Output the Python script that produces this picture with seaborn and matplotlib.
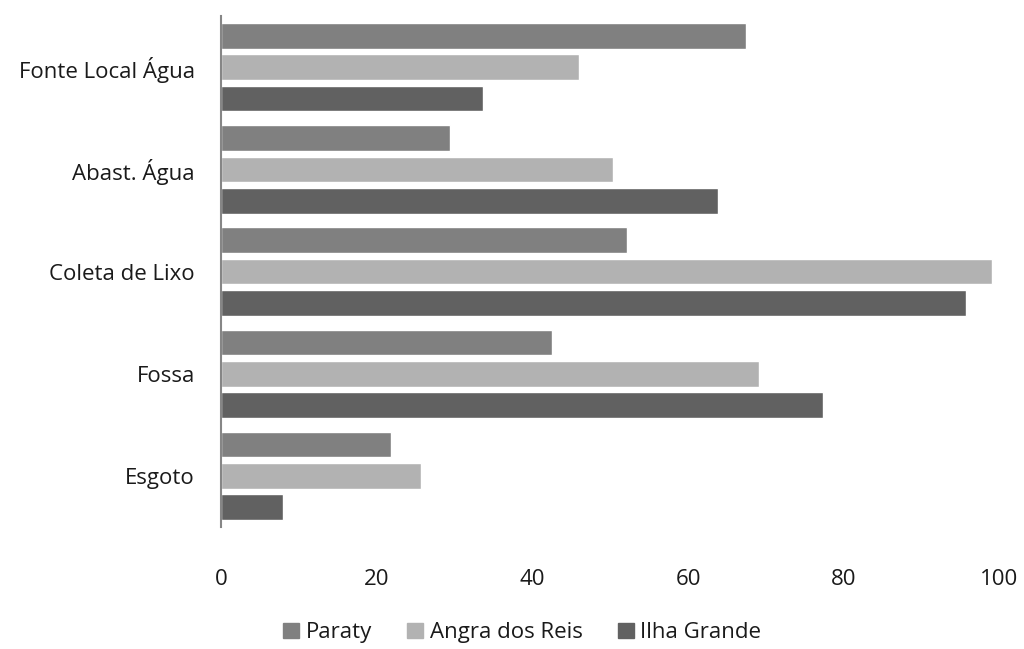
import matplotlib
matplotlib.use("Agg")
import matplotlib.pyplot as plt
import seaborn as sns
import pandas as pd

categorias = ["Fonte Local Água", "Abast. Água", "Coleta de Lixo", "Fossa", "Esgoto"]
paraty = [67.5, 29.4, 52.2, 42.5, 21.8]
angra = [46.0, 50.3, 99.1, 69.1, 25.7]
ilha = [33.6, 63.9, 95.7, 77.3, 7.9]
series = ["Paraty", "Angra dos Reis", "Ilha Grande"]
cores = ["#808080", "#b2b2b2", "#616161"]

df = pd.DataFrame({
    "categoria": categorias * 3,
    "valor": paraty + angra + ilha,
    "serie": [s for s in series for _ in categorias],
})

sns.set_style("white")
plt.rcParams["font.family"] = ["Open Sans", "DejaVu Sans"]

fig = plt.figure(figsize=(10.24, 6.49), dpi=100)
ax = fig.add_axes([0.216, 0.188, 0.76, 0.787])
sns.barplot(data=df, y="categoria", x="valor", hue="serie", order=categorias,
            hue_order=series, palette=cores, orient="h", width=0.92, gap=0.18,
            saturation=1, ax=ax)

ax.set_xlim(0, 100)
ax.set_ylim(4.5, -0.5)
ax.set_xticks([0, 20, 40, 60, 80, 100])
ax.set_xlabel("")
ax.set_ylabel("")
ax.tick_params(axis="x", labelsize=16, length=0, pad=30, labelcolor="#1a1a1a")
ax.tick_params(axis="y", labelsize=16, length=0, pad=19, labelcolor="#1a1a1a")
for s in ["top", "right", "bottom"]:
    ax.spines[s].set_visible(False)
ax.spines["left"].set_color("#868686")
ax.spines["left"].set_linewidth(1.5)

ax.legend_.remove()
handles = [plt.Rectangle((0, 0), 1, 1, color=c) for c in cores]
fig.legend(handles, series, loc="center", bbox_to_anchor=(0.51, 0.025), ncol=3,
           frameon=False, fontsize=16, handlelength=0.7, handleheight=0.7,
           handletextpad=0.3, columnspacing=1.6, labelcolor="#1a1a1a")

fig.savefig("out.png", dpi=100)
